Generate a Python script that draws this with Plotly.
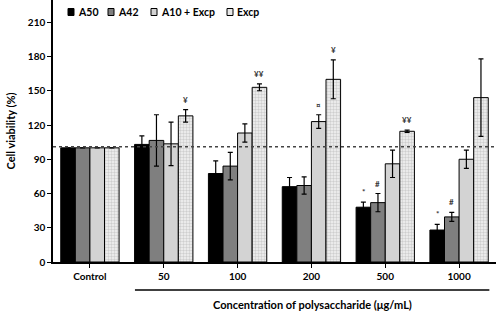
import plotly.graph_objects as go

categories = ["Control", "50", "100", "200", "500", "1000"]
series_names = ["A50", "A42", "A10 + Excp", "Excp"]
a50 = [100, 103, 77.5, 66, 48, 28]
a50_err = [0, 7.5, 11, 8, 4.5, 5]
a42 = [100, 106.5, 84, 67, 52, 39.5]
a42_err = [0, 22.5, 12, 7.5, 8, 4]
a10 = [100, 103.5, 113, 123, 86, 90]
a10_err = [0, 19, 8, 6, 12, 8]
excp = [100, 128, 153, 160, 114.5, 144]
excp_err = [0, 5.5, 3, 17, 1, 34]
sig_a50 = ["", "", "", "", "*", "*"]
sig_a42 = ["", "", "", "", "#", "#"]
sig_a10 = ["", "", "", "¤", "", ""]
sig_excp = ["", "¥", "¥¥", "¥", "¥¥", ""]
y_ticks = [0, 30, 60, 90, 120, 150, 180, 210]
reference_level = 101

values = [a50, a42, a10, excp]
errors = [a50_err, a42_err, a10_err, excp_err]
sigs = [sig_a50, sig_a42, sig_a10, sig_excp]
colors = ["#000000", "#7f7f7f", "#d3d3d3", "#ffffff"]

FONT = "Lato"
bargap = 0.21
W, H = 496, 316
ML, MR, MT, MB = 53, 0, 0, 54
PW, PH = W - ML - MR, H - MT - MB


def px_x(px):
    return (px - ML) / PW


def px_y(py):
    return (H - MB - py) / PH


fig = go.Figure()
for i, name in enumerate(series_names):
    marker = dict(color=colors[i], line=dict(color="#000000", width=1))
    if name == "Excp":
        marker["pattern"] = dict(shape=".", size=3, solidity=0.5,
                                 fgcolor="#a8a8a8", bgcolor="#f4f4f4")
    fig.add_trace(go.Bar(
        name=name, x=categories, y=values[i], marker=marker, showlegend=False,
        error_y=dict(type="data", array=[e if e > 0 else None for e in errors[i]],
                     visible=True, color="#000000", thickness=1.2, width=2.5),
    ))

# significance marks
nser = len(series_names)
bw = (1 - bargap) / nser
for i in range(nser):
    off = (i - (nser - 1) / 2) * bw
    for j, s in enumerate(sigs[i]):
        if s:
            fig.add_annotation(x=j + off, y=values[i][j] + errors[i][j],
                               text=s, showarrow=False, yanchor="bottom", yshift=3,
                               font=dict(family=FONT, size=8, color="#333333"))

# dotted reference line
fig.add_shape(type="line", xref="paper", x0=0, x1=1, yref="y",
              y0=reference_level, y1=reference_level,
              line=dict(color="#444444", width=1.5, dash="dot"))

# legend (drawn as symbols + text at the top of the plot)
legend_sym_px = [68, 108, 151, 227]
legend_fills = ["#000000", "#7f7f7f", "#d3d3d3", "#e8e8e8"]
for name, sx, fc in zip(series_names, legend_sym_px, legend_fills):
    fig.add_shape(type="rect", xref="paper", yref="paper",
                  x0=px_x(sx), x1=px_x(sx + 6), y0=px_y(15.5), y1=px_y(8.5),
                  fillcolor=fc, line=dict(color="#000000", width=1))
    fig.add_annotation(xref="paper", yref="paper", x=px_x(sx + 8), y=px_y(12),
                       xanchor="left", yanchor="middle", text=name, showarrow=False,
                       font=dict(family=FONT, size=10.5, color="#000000", weight="bold"))

# bracket under the concentration groups
fig.add_shape(type="line", xref="x", x0=0.61, x1=5.41, yref="paper",
              y0=px_y(290), y1=px_y(290), line=dict(color="#000000", width=1.5))
fig.add_annotation(x=3.01, xref="x", y=px_y(305), yref="paper",
                   text="Concentration of polysaccharide (μg/mL)",
                   showarrow=False, yanchor="middle",
                   font=dict(family=FONT, size=11, color="#000000", weight="bold"))

fig.update_layout(
    width=W, height=H,
    margin=dict(l=ML, r=MR, t=MT, b=MB, autoexpand=False),
    barmode="group", bargap=bargap, bargroupgap=0,
    plot_bgcolor="#ffffff", paper_bgcolor="#ffffff",
    font=dict(family=FONT, size=10, color="#000000", weight="bold"),
    showlegend=False,
)
fig.update_xaxes(showline=True, linecolor="#000000", linewidth=1.5,
                 ticks="outside", ticklen=4, tickcolor="#000000",
                 range=[-0.5, 5.5], tickfont=dict(family=FONT, size=10, weight="bold"),
                 showgrid=False, zeroline=False)
fig.update_yaxes(showline=True, linecolor="#000000", linewidth=1.5,
                 ticks="outside", ticklen=4, tickcolor="#000000",
                 range=[0, 229.5], tickvals=y_ticks, showgrid=False, zeroline=False,
                 tickfont=dict(family=FONT, size=10, weight="bold"),
                 title=dict(text="Cell viability (%)", standoff=10,
                            font=dict(family=FONT, size=11, weight="bold")))

fig.write_html("out.html", config={"displayModeBar": False},
               post_script="document.body.style.margin='0';document.body.style.padding='0';")
